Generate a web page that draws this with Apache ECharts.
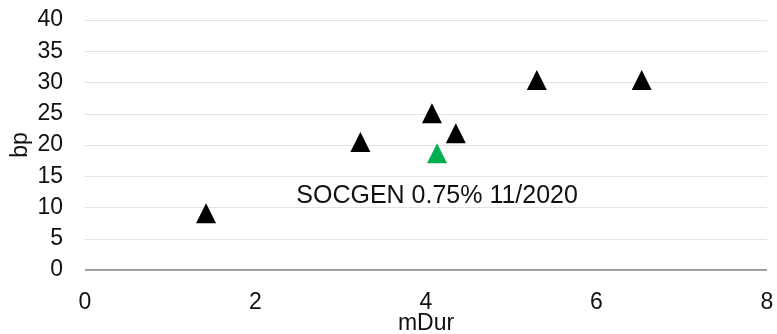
<!DOCTYPE html>
<html>
<head>
<meta charset="utf-8">
<script src="https://cdn.jsdelivr.net/npm/echarts@6/dist/echarts.min.js"></script>
<style>
  html, body { margin: 0; padding: 0; background: #fff; }
  #chart { width: 777px; height: 334px; }
</style>
</head>
<body>
<div id="chart"></div>
<script>
// Modified duration (x) vs spread in bp (y)
const peerBonds = [
  [1.42, 9.1],
  [3.23, 20.5],
  [4.07, 25.1],
  [4.35, 21.9],
  [5.30, 30.4],
  [6.53, 30.4]
];
const highlightBond = [[4.13, 18.7]];
const highlightLabel = 'SOCGEN 0.75% 11/2020';

const FONT = 'Liberation Sans';
const TEXT = '#111111';

const chart = echarts.init(document.getElementById('chart'), null, { renderer: 'canvas' });
chart.setOption({
  animation: false,
  backgroundColor: '#ffffff',
  textStyle: { fontFamily: FONT },
  grid: { left: 85, right: 10, top: 20, bottom: 64, outerBoundsMode: 'none', containLabel: false },
  xAxis: {
    type: 'value',
    min: 0, max: 8, interval: 2,
    name: 'mDur',
    nameLocation: 'middle',
    nameGap: 42,
    nameMoveOverlap: false,
    nameTextStyle: { fontSize: 23, color: TEXT, fontFamily: FONT },
    axisLine: { show: false },
    axisTick: { show: false },
    splitLine: { show: false },
    axisLabel: { fontSize: 23, color: TEXT, margin: 21, fontFamily: FONT }
  },
  yAxis: {
    type: 'value',
    min: 0, max: 40, interval: 5,
    name: 'bp',
    nameLocation: 'middle',
    nameGap: 53,
    nameMoveOverlap: false,
    nameTextStyle: { fontSize: 23, color: TEXT, fontFamily: FONT },
    axisLine: { show: false },
    axisTick: { show: false },
    splitLine: { show: true, lineStyle: { color: '#e3e3e3', width: 1 } },
    axisLabel: { fontSize: 23, color: TEXT, margin: 22, fontFamily: FONT }
  },
  series: [
    {
      type: 'line',
      data: [[0, 0], [8, 0]],
      symbol: 'none',
      silent: true,
      lineStyle: { color: '#777777', width: 1.5 },
      z: 1
    },
    {
      type: 'scatter',
      data: peerBonds,
      symbol: 'triangle',
      symbolSize: [20, 20],
      itemStyle: { color: '#000000', opacity: 1 },
      z: 3
    },
    {
      type: 'scatter',
      data: highlightBond,
      symbol: 'triangle',
      symbolSize: [20, 20],
      itemStyle: { color: '#00b050', opacity: 1 },
      label: {
        show: true,
        position: 'bottom',
        distance: 20,
        formatter: highlightLabel,
        fontSize: 25,
        color: TEXT,
        opacity: 1,
        fontFamily: FONT
      },
      z: 3
    }
  ]
});
</script>
</body>
</html>
